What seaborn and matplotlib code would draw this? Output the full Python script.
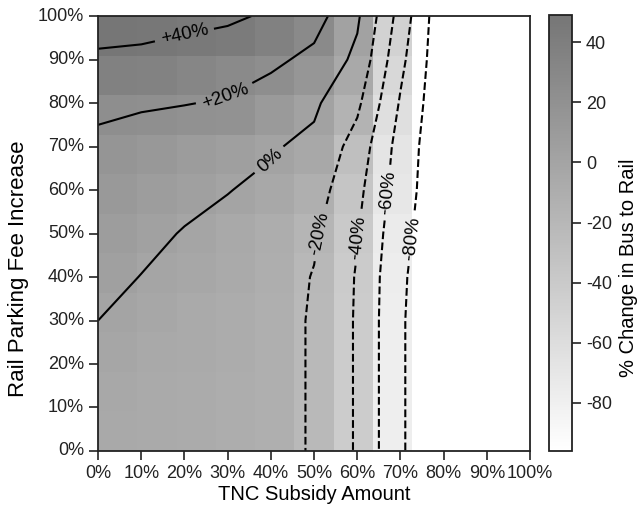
import numpy as np
import pandas as pd
import matplotlib
matplotlib.use("Agg")
import matplotlib.pyplot as plt
import seaborn as sns
from matplotlib.colors import LinearSegmentedColormap

# TNC subsidy (columns) and rail parking fee increase (rows), in %
subsidy = [0, 10, 20, 30, 40, 50, 60, 70, 80, 90, 100]
parking = [100, 90, 80, 70, 60, 50, 40, 30, 20, 10, 0]

# % change in bus to rail, one list per parking fee row (top row first)
row_100 = [49, 47.4, 46, 43.5, 37.1, 28, 3, -48, -96, -96, -96]
row_90 = [37, 36, 32, 28, 24, 15.1, -4.5, -55, -96, -96, -96]
row_80 = [23.5, 22, 20.6, 18.5, 11, 3, -16, -62, -96, -96, -96]
row_70 = [16.5, 12.5, 9, 5.5, 1.6, -4, -28, -68, -96, -96, -96]
row_60 = [12, 8, 4, 0.5, -3.7, -11.4, -34.6, -70.3, -96, -96, -96]
row_50 = [8, 3.6, -0.8, -4.5, -9, -17.4, -39, -74, -96, -96, -96]
row_40 = [4, -0.3, -3.5, -6.5, -10.5, -21, -41.5, -77, -96, -96, -96]
row_30 = [0, -3, -5.5, -8, -12, -22, -42, -78, -96, -96, -96]
row_20 = [-2.5, -4.5, -6.5, -8.5, -12, -22, -42, -78, -96, -96, -96]
row_10 = [-4, -5.5, -7, -9, -12, -22, -42, -78, -96, -96, -96]
row_0 = [-5, -6, -7.5, -9.5, -12, -22, -42, -78, -96, -96, -96]

levels = [-80, -60, -40, -20, 0, 20, 40]
level_labels = ["-80%", "-60%", "-40%", "-20%", "0%", "+20%", "+40%"]
tick_labels = ["0%", "10%", "20%", "30%", "40%", "50%", "60%", "70%", "80%", "90%", "100%"]

df = pd.DataFrame(
    [row_100, row_90, row_80, row_70, row_60, row_50, row_40, row_30, row_20, row_10, row_0],
    index=parking, columns=subsidy,
)

plt.rcParams["font.family"] = ["Liberation Sans", "DejaVu Sans"]
plt.rcParams["font.size"] = 13
plt.rcParams["axes.unicode_minus"] = False
plt.rcParams["text.color"] = "#222222"
plt.rcParams["xtick.color"] = "#222222"
plt.rcParams["ytick.color"] = "#222222"

cmap = LinearSegmentedColormap.from_list("wg", ["#ffffff", "#767676"])

fig = plt.figure(figsize=(6.41, 5.14), dpi=100)
ax = fig.add_axes([0.153, 0.1226, 0.674, 0.846])
cax = fig.add_axes([0.8565, 0.1226, 0.0359, 0.848])

n = len(subsidy)
sns.heatmap(df, ax=ax, cmap=cmap, vmin=-96, vmax=49, cbar=True, cbar_ax=cax,
            square=False, linewidths=0)

# contour on grid points stretched to the full heatmap extent
scale = n / 100
X, Y = np.meshgrid(np.array(subsidy) * scale, (100 - np.array(parking)) * scale)
cs = ax.contour(X, Y, df.values, levels=levels, colors="black", linewidths=1.5)
fmt = dict(zip(cs.levels, level_labels))
label_pos = [(20, 95.6), (29.4, 81.8), (39.6, 67), (50.2, 50.2), (60.4, 49),
             (67.1, 59.4), (72, 49)]
manual = [(x * scale, (100 - y) * scale) for x, y in label_pos]
ax.clabel(cs, fmt=fmt, fontsize=13.5, inline=True, inline_spacing=6, manual=manual)

ticks = np.array(subsidy) * scale
ax.set_xticks(ticks)
ax.set_xticklabels(tick_labels, rotation=0)
ax.set_yticks((100 - np.array(subsidy)) * scale)
ax.set_yticklabels(tick_labels, rotation=0)
ax.set_xlim(0, n)
ax.set_ylim(n, 0)
ax.tick_params(length=6.5, width=1.2, direction="out", labelsize=13)
for s in ax.spines.values():
    s.set_visible(True)
    s.set_linewidth(1.3)
    s.set_color("#222222")
ax.set_xlabel("TNC Subsidy Amount", fontsize=14.5, labelpad=2)
ax.set_ylabel("Rail Parking Fee Increase", fontsize=16)
ax.yaxis.set_label_coords(-0.16, 0.42)

cbar = ax.collections[0].colorbar
cbar.set_ticks([40, 20, 0, -20, -40, -60, -80])
cbar.outline.set_visible(True)
cbar.outline.set_linewidth(1.3)
cbar.outline.set_edgecolor("#222222")
cbar.ax.tick_params(length=6.5, width=1.2, labelsize=13)
cbar.set_label("% Change in Bus to Rail", fontsize=14.5)
cbar.ax.yaxis.set_label_coords(3.05, 0.42)

fig.savefig("out.png", dpi=100)
